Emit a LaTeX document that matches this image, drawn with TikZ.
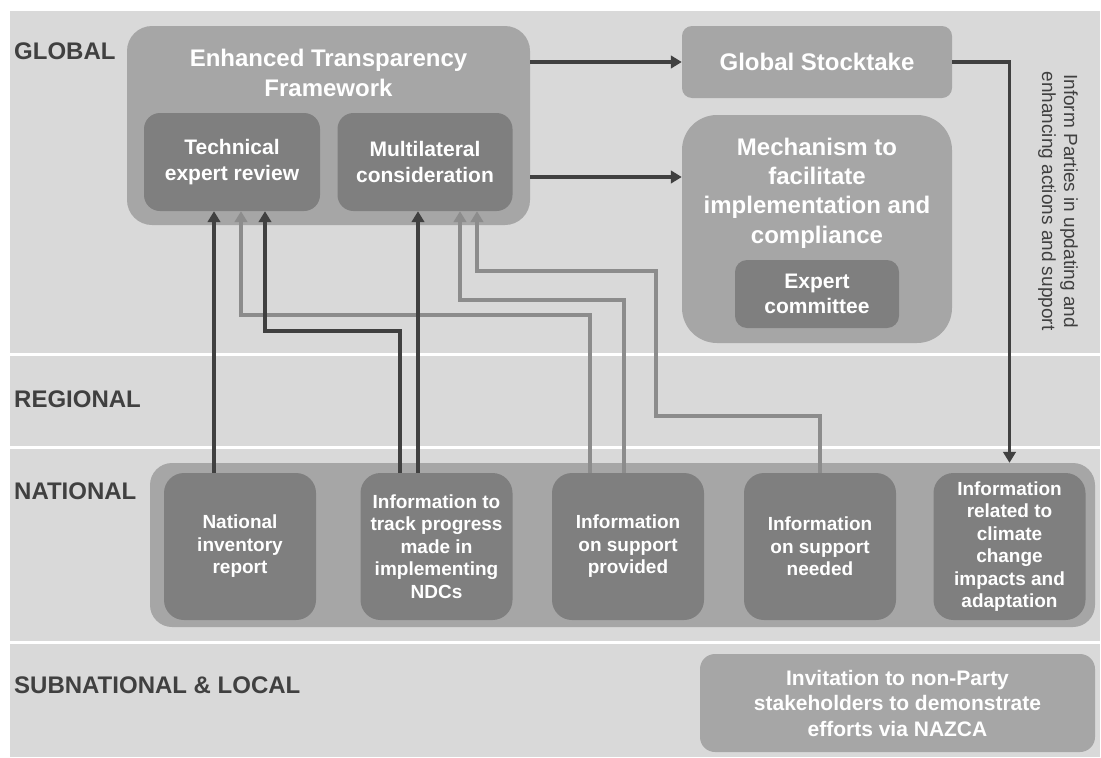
\documentclass[tikz,border=0pt]{standalone}
\usepackage{fontspec}
\setmainfont{Liberation Sans}
\usetikzlibrary{arrows.meta,calc}
\definecolor{bgc}{HTML}{D9D9D9}
\definecolor{outc}{HTML}{A6A6A6}
\definecolor{inc}{HTML}{7F7F7F}
\definecolor{darkc}{HTML}{404040}
\definecolor{linec}{HTML}{8C8C8C}
\definecolor{labc}{HTML}{404040}
\begin{document}
\begin{tikzpicture}[x=1pt,y=-1pt,
  box/.style={rectangle, inner sep=0pt, align=center, text=white},
  outerbox/.style={box, fill=outc},
  innerbox/.style={box, fill=inc},
  ftitle/.style={font=\fontsize{24}{30}\selectfont\bfseries},
  fmid/.style={font=\fontsize{21}{25.5}\selectfont\bfseries},
  fsmall/.style={font=\fontsize{19}{22.5}\selectfont\bfseries},
  lvl/.style={anchor=base west, inner sep=0pt, text=labc, font=\fontsize{24}{28}\selectfont\bfseries},
  darkarrow/.style={draw=darkc, line width=3.5pt, -{Triangle[length=11pt,width=12.5pt]}},
  grayarrow/.style={draw=linec, line width=3.5pt, -{Triangle[length=11pt,width=12.5pt]}},
  natbox/.style={innerbox, fsmall, rounded corners=20pt, minimum width=152pt, minimum height=147pt}
]
\useasboundingbox (0,0) rectangle (1101,758);
% background bands
\fill[bgc] (10,11) rectangle (1100,352.5);
\fill[bgc] (10,355.5) rectangle (1100,445.5);
\fill[bgc] (10,448.5) rectangle (1100,640.5);
\fill[bgc] (10,643.5) rectangle (1100,757);

% level labels
\node[lvl] (glbl) at (14,59) {GLOBAL};
\node[lvl] (regl) at (14,407) {REGIONAL};
\node[lvl] (natl) at (14,499) {NATIONAL};
\node[lvl] (subl) at (14,693) {SUBNATIONAL \& LOCAL};

% Enhanced Transparency Framework
\node[outerbox, rounded corners=25pt, minimum width=403pt, minimum height=199pt] (etf) at (328.5,125.5) {};
\node[box, ftitle] (etft) at (328.5,73) {Enhanced Transparency\\Framework};
\node[innerbox, fmid, rounded corners=16pt, minimum width=176pt, minimum height=98pt] (ter) at (232,162) {Technical\\expert review};
\node[innerbox, fmid, rounded corners=16pt, minimum width=175pt, minimum height=98pt] (mlc) at (425,162) {Multilateral\\consideration};

% Global stocktake
\node[outerbox, ftitle, rounded corners=10pt, minimum width=270pt, minimum height=72pt] (gst) at (817,62) {Global Stocktake};

% Mechanism
\node[outerbox, rounded corners=35pt, minimum width=270pt, minimum height=228pt] (mech) at (817,229) {};
\node[box, font=\fontsize{24}{29.3}\selectfont\bfseries] (mecht) at (817,193) {Mechanism to\\facilitate\\implementation and\\compliance};
\node[innerbox, fmid, rounded corners=12pt, minimum width=164pt, minimum height=68pt] (expc) at (817,294) {Expert\\committee};

% vertical text
\node[rotate=-90, align=center, text=darkc, inner sep=0pt, font=\fontsize{19}{22}\selectfont] (vtxt) at (1058,201) {Inform Parties in updating and\\enhancing actions and support};

% National
\node[outerbox, rounded corners=22pt, minimum width=945pt, minimum height=164pt] (nat) at (622.5,545) {};
\node[natbox] (n1) at (240,546.5) {National\\inventory\\report};
\node[natbox] (n2) at (436.5,546.5) {Information to\\track progress\\made in\\implementing\\NDCs};
\node[natbox] (n3) at (628,546.5) {Information\\on support\\provided};
\node[natbox] (n4) at (820,546.5) {Information\\on support\\needed};
\node[natbox] (n5) at (1009.5,546.5) {Information\\related to\\climate\\change\\impacts and\\adaptation};

% Invitation
\node[outerbox, fmid, rounded corners=15pt, minimum width=395pt, minimum height=98pt] (inv) at (897.5,703) {Invitation to non-Party\\stakeholders to demonstrate\\efforts via NAZCA};

% connector helper coordinates
\coordinate (a0) at ([xshift=-38pt]n3.north);
\coordinate (a1) at (241,315);
\coordinate (b0) at ([xshift=-4pt]n3.north);
\coordinate (b1) at (460,300);
\coordinate (c0) at (n4.north);
\coordinate (c1) at (656,416);
\coordinate (c2) at (477,271);
\coordinate (f0) at ([xshift=-26pt]n1.north);
\coordinate (d0) at ([xshift=-36.5pt]n2.north);
\coordinate (d1) at (265,331);
\coordinate (e0) at ([xshift=-18.5pt]n2.north);
\coordinate (mi) at ([yshift=52pt]mech.west);

% gray connectors
\draw[grayarrow] (a0) |- (a1) -- (a1 |- ter.south);
\draw[grayarrow] (b0) |- (b1) -- (b1 |- mlc.south);
\draw[grayarrow] (c0) |- (c1) |- (c2) -- (c2 |- mlc.south);

% dark connectors
\draw[darkarrow] (f0) -- (f0 |- ter.south);
\draw[darkarrow] (d0) |- (d1) -- (d1 |- ter.south);
\draw[darkarrow] (e0) -- (e0 |- mlc.south);
\draw[darkarrow] (etf.east |- gst.west) -- (gst.west);
\draw[darkarrow] (etf.east |- mi) -- (mi);
\draw[darkarrow] (gst.east) -| (nat.north -| n5.north);
\end{tikzpicture}
\end{document}
